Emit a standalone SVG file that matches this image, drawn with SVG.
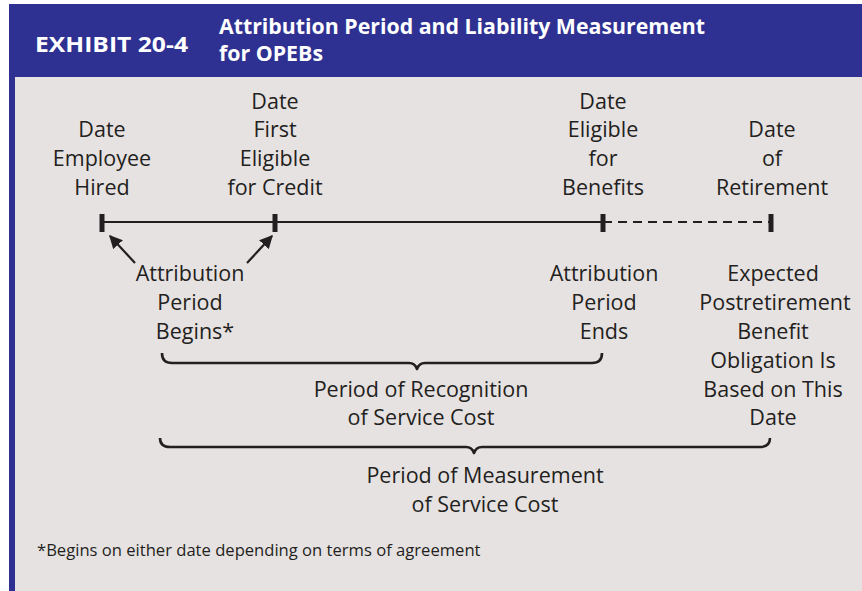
<svg xmlns="http://www.w3.org/2000/svg" width="862" height="591" viewBox="0 0 862 591">
  <style>
    .lbl { font-family: "Open Sans", "Liberation Sans", sans-serif; font-size: 21.5px; fill: #231f20; text-anchor: middle; }
    .hdr { font-family: "Open Sans", "Liberation Sans", sans-serif; font-weight: bold; fill: #ffffff; }
    .note { font-family: "Open Sans", "Liberation Sans", sans-serif; font-size: 16.6px; fill: #231f20; }
    .line { stroke: #231f20; stroke-width: 2.2; fill: none; }
    .tick { stroke: #231f20; stroke-width: 5; }
    .brace { stroke: #231f20; stroke-width: 2.6; fill: none; stroke-linejoin: round; }
  </style>
  <defs>
    <marker id="arrow" viewBox="0 0 10 10" refX="9" refY="5" markerWidth="6" markerHeight="6" orient="auto">
      <path d="M0,0 L10,5 L0,10 z" fill="#231f20"/>
    </marker>
  </defs>

  <!-- page background and frame -->
  <rect x="0" y="0" width="862" height="591" fill="#ffffff"/>
  <rect x="9" y="4" width="853" height="587" fill="#2e3192"/>
  <rect x="15" y="77" width="847" height="514" fill="#e7e2e2"/>

  <!-- header -->
  <g id="header">
    <text class="hdr" x="35" y="52" font-size="22" textLength="153" lengthAdjust="spacingAndGlyphs">EXHIBIT 20-4</text>
    <text class="hdr" x="219" y="34" font-size="20.5" textLength="486" lengthAdjust="spacingAndGlyphs">Attribution Period and Liability Measurement</text>
    <text class="hdr" x="219" y="61" font-size="20.5" textLength="104" lengthAdjust="spacingAndGlyphs">for OPEBs</text>
  </g>

  <!-- connectors: timeline, arrows, braces -->
  <g id="connectors">
    <line class="line" x1="102" y1="222" x2="603" y2="222"/>
    <line class="line" x1="603" y1="222" x2="771" y2="222" stroke-dasharray="9,6"/>
    <line class="tick" x1="102" y1="214" x2="102" y2="232"/>
    <line class="tick" x1="275" y1="214" x2="275" y2="232"/>
    <line class="tick" x1="603" y1="214" x2="603" y2="232"/>
    <line class="tick" x1="771" y1="214" x2="771" y2="232"/>
    <line class="line" x1="135" y1="263" x2="110" y2="236" stroke-width="1.8" marker-end="url(#arrow)"/>
    <line class="line" x1="247" y1="263" x2="272" y2="236" stroke-width="1.8" marker-end="url(#arrow)"/>
    <path class="brace" d="M162,353 Q162,363 172,363 L409,363 Q415,363 417,369 Q419,363 425,363 L592,363 Q602,363 602,353"/>
    <path class="brace" d="M160,438 Q160,447 170,447 L466,447 Q472,447 474,453 Q476,447 482,447 L760,447 Q770,447 770,438"/>
  </g>

  <!-- date nodes above the timeline -->
  <g id="hired">
    <text class="lbl" x="102" y="137">Date</text>
    <text class="lbl" x="102" y="166">Employee</text>
    <text class="lbl" x="102" y="195">Hired</text>
  </g>
  <g id="first-eligible">
    <text class="lbl" x="275" y="109">Date</text>
    <text class="lbl" x="275" y="137">First</text>
    <text class="lbl" x="275" y="166">Eligible</text>
    <text class="lbl" x="275" y="195">for Credit</text>
  </g>
  <g id="eligible-benefits">
    <text class="lbl" x="603" y="109">Date</text>
    <text class="lbl" x="603" y="137">Eligible</text>
    <text class="lbl" x="603" y="166">for</text>
    <text class="lbl" x="603" y="195">Benefits</text>
  </g>
  <g id="retirement">
    <text class="lbl" x="772" y="137">Date</text>
    <text class="lbl" x="772" y="166">of</text>
    <text class="lbl" x="772" y="195">Retirement</text>
  </g>

  <!-- labels below the timeline -->
  <g id="attr-begins">
    <text class="lbl" x="190" y="281">Attribution</text>
    <text class="lbl" x="190" y="310">Period</text>
    <text class="lbl" x="195" y="339">Begins*</text>
  </g>
  <g id="attr-ends">
    <text class="lbl" x="604" y="281">Attribution</text>
    <text class="lbl" x="604" y="310">Period</text>
    <text class="lbl" x="604" y="339">Ends</text>
  </g>
  <g id="expected-obligation">
    <text class="lbl" x="773" y="281">Expected</text>
    <text class="lbl" x="775" y="310">Postretirement</text>
    <text class="lbl" x="773" y="339">Benefit</text>
    <text class="lbl" x="773" y="368">Obligation Is</text>
    <text class="lbl" x="773" y="397">Based on This</text>
    <text class="lbl" x="773" y="425">Date</text>
  </g>
  <g id="recognition">
    <text class="lbl" x="421" y="397">Period of Recognition</text>
    <text class="lbl" x="421" y="425">of Service Cost</text>
  </g>
  <g id="measurement">
    <text class="lbl" x="485" y="483">Period of Measurement</text>
    <text class="lbl" x="485" y="512">of Service Cost</text>
  </g>

  <!-- footnote -->
  <text class="note" x="37" y="556">*Begins on either date depending on terms of agreement</text>
</svg>
